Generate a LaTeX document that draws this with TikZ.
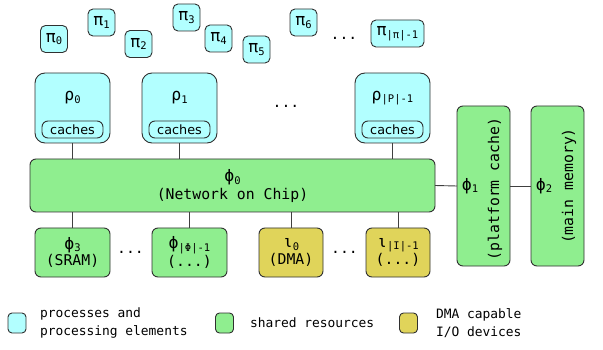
\documentclass[tikz,border=0pt]{standalone}
\usepackage{fontspec}
\setmainfont{DejaVu Sans Mono}
\newfontfamily\cachefont{DejaVu Sans}
\definecolor{proccol}{HTML}{B2FFFF}
\definecolor{rescol}{HTML}{8FEE8F}
\definecolor{iocol}{HTML}{E0D45A}
\definecolor{edgecol}{HTML}{303030}
\definecolor{linkcol}{HTML}{404040}
% symbol with a subscript: big greek letter, small mono index
\newcommand{\grk}[2]{{\fontsize{16.5}{16.5}\selectfont #1}\raisebox{-2.5pt}{\fontsize{10.5}{10.5}\selectfont #2}}
\begin{document}
\begin{tikzpicture}[x=1pt,y=-1pt,
  every node/.style={inner sep=0pt,outer sep=0pt},
  box/.style={draw=edgecol,line width=0.9pt,anchor=center},
  proc/.style={box,fill=proccol},
  res/.style={box,fill=rescol,rounded corners=6pt},
  io/.style={box,fill=iocol,rounded corners=6pt},
  pibox/.style={proc,rounded corners=5pt,minimum width=27pt,minimum height=27pt},
  pebox/.style={proc,rounded corners=10pt,minimum width=75pt,minimum height=70pt},
  cachebox/.style={box,fill=proccol,rounded corners=6pt,minimum width=61pt,minimum height=17pt,font=\cachefont\fontsize{12.8}{12.8}\selectfont},
  link/.style={draw=linkcol,line width=0.9pt},
  lbl/.style={font=\fontsize{14.8}{16}\selectfont,align=center},
  dots/.style={font=\fontsize{14.8}{14.8}\selectfont},
  legbox/.style={box,rounded corners=4pt,minimum width=18pt,minimum height=20pt},
  legtxt/.style={anchor=west,align=left,font=\fontsize{12.9}{18}\selectfont}]
\useasboundingbox (0,0) rectangle (603,350);

% processes
\node[pibox] (pi0) at (54,39) {\grk{π}{0}};
\node[pibox] (pi1) at (101.5,22.5) {\grk{π}{1}};
\node[pibox] (pi2) at (138.5,44) {\grk{π}{2}};
\node[pibox] (pi3) at (186.5,17.5) {\grk{π}{3}};
\node[pibox] (pi4) at (218.5,38.5) {\grk{π}{4}};
\node[pibox] (pi5) at (256.5,49.5) {\grk{π}{5}};
\node[pibox] (pi6) at (303.5,22.5) {\grk{π}{6}};
\node[dots] (pidots) at (344,38) {...};
\node[pibox,minimum width=53pt] (pin) at (397.5,33.5) {\grk{π}{|π|-1}};

% processing elements
\node[pebox] (rho0) at (72.5,108) {};
\node[pebox] (rho1) at (179.5,108) {};
\node[pebox] (rhon) at (392.5,108) {};
\node[dots] (rhodots) at (286,106) {...};
\foreach \r/\s in {rho0/0,rho1/1,rhon/|P|-1}{
  \node (\r-lbl) at ([yshift=10pt]\r.center) {\grk{ρ}{\s}};
  \node[cachebox] (\r-c) at ([yshift=-21.5pt]\r.center) {caches};
}

% network on chip and memories
\node[res,minimum width=405pt,minimum height=53pt] (noc) at (232.5,185.5) {};
\node (noc-lbl) at (232.5,177.5) {\grk{ϕ}{0}};
\node[lbl] (noc-txt) at (232.5,195.5) {(Network on Chip)};
\node[res,minimum width=53pt,minimum height=160pt] (phi1) at (483.5,186) {};
\node (phi1-lbl) at (470,186) {\grk{ϕ}{1}};
\node[lbl,rotate=90] (phi1-txt) at (495,189) {(platform cache)};
\node[res,minimum width=53pt,minimum height=160pt] (phi2) at (557.5,186) {};
\node (phi2-lbl) at (544,186) {\grk{ϕ}{2}};
\node[lbl,rotate=90] (phi2-txt) at (569,186) {(main memory)};

% shared resources and io devices below the network
\node[res,minimum width=75pt,minimum height=49pt,lbl] (phi3) at (72.5,252.5) {\grk{ϕ}{3}\\[0.5pt](SRAM)};
\node[res,minimum width=75pt,minimum height=49pt,lbl] (phin) at (189.5,252.5) {\grk{ϕ}{|Φ|-1}\\[0.5pt](...)};
\node[io,minimum width=64pt,minimum height=49pt,lbl] (io0) at (291,252.5) {\grk{ι}{0}\\[0.5pt](DMA)};
\node[io,minimum width=64pt,minimum height=49pt,lbl] (ion) at (398,252.5) {\grk{ι}{|I|-1}\\[0.5pt](...)};
\node[dots] (resdots) at (130.5,252) {...};
\node[dots] (iodots) at (344.5,252) {...};

% connections
\foreach \r in {rho0,rho1,rhon}{
  \draw[link] (\r.south) -- (\r.south |- noc.north);
}
\foreach \b in {phi3,phin,io0,ion}{
  \draw[link] (\b.north |- noc.south) -- (\b.north);
}
\draw[link] (noc.east) -- (phi1.west);
\draw[link] (phi1.east) -- (phi2.west);

% legend
\node[legbox,fill=proccol] (leg1) at (17,323) {};
\node[legtxt] (leg1-txt) at (40,323) {processes and\\processing elements};
\node[legbox,fill=rescol] (leg2) at (224.5,323) {};
\node[legtxt] (leg2-txt) at (250,323) {shared resources};
\node[legbox,fill=iocol] (leg3) at (408.5,323) {};
\node[legtxt] (leg3-txt) at (436,323) {DMA capable\\I/O devices};
\end{tikzpicture}
\end{document}
